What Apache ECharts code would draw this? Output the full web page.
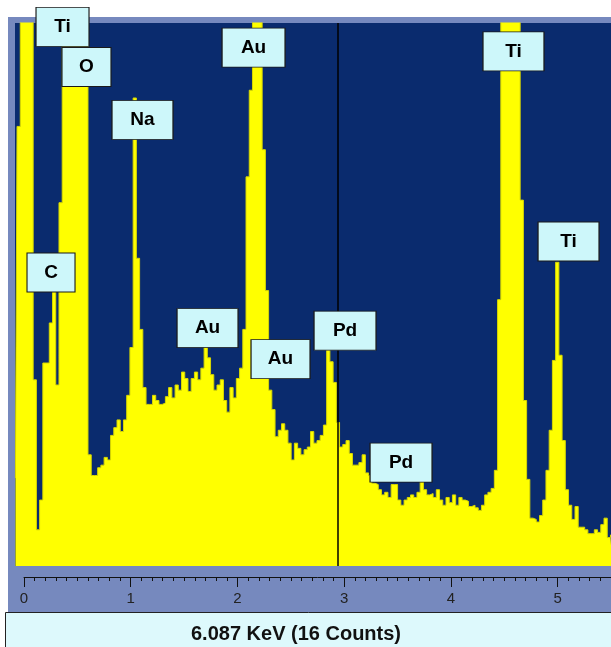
<!DOCTYPE html>
<html>
<head>
<meta charset="utf-8">
<script src="https://cdn.jsdelivr.net/npm/echarts@6/dist/echarts.min.js"></script>
<style>
  body { margin: 0; background: #fff; }
  #wrap { position: relative; width: 611px; height: 647px; }
  #frame { position: absolute; left: 8px; top: 17px; width: 603px; height: 595px; background: #7689be; }
  #chart { position: absolute; left: 0; top: 0; width: 611px; height: 647px; }
</style>
</head>
<body>
<div id="wrap">
  <div id="frame"></div>
  <div id="chart"></div>
</div>
<script>
// EDS spectrum, channel calibration
var startKeV = -0.08;
var channelKeV = 0.03;

// counts per channel (peaks above the top of the scale are off-scale)
var counts = [
  68, 340, 980, 1450, 1200, 640, 144, 28, 51, 157,
  157, 188, 217, 140, 281, 700, 900, 1000, 1050, 1000,
  900, 750, 520, 86, 70, 70, 76, 78, 84, 82,
  101, 107, 113, 104, 113, 132, 169, 362, 238, 183,
  138, 125, 125, 132, 128, 125, 126, 131, 138, 130,
  140, 136, 150, 145, 135, 145, 150, 144, 153, 169,
  161, 148, 136, 140, 144, 128, 119, 138, 130, 145,
  153, 183, 301, 368, 700, 760, 560, 322, 213, 136,
  121, 100, 105, 110, 105, 95, 82, 95, 91, 86,
  90, 92, 104, 95, 97, 101, 109, 171, 158, 142,
  111, 92, 94, 97, 87, 78, 78, 80, 86, 72,
  70, 64, 63, 59, 55, 57, 53, 63, 63, 51,
  47, 51, 53, 55, 53, 57, 65, 59, 55, 56,
  53, 59, 51, 47, 53, 49, 55, 47, 53, 51,
  50, 46, 47, 45, 43, 47, 55, 57, 60, 74,
  206, 480, 700, 820, 800, 700, 560, 283, 128, 67,
  37, 36, 34, 39, 51, 74, 105, 159, 235, 163,
  97, 59, 47, 36, 46, 30, 30, 28, 25, 25,
  28, 26, 32, 37, 22, 24
];

// element labels and where they sit (keV, counts)
var peakNames  = ['Ti', 'O', 'Na', 'C', 'Au', 'Ti', 'Ti', 'Au', 'Au', 'Pd', 'Pd'];
var labelKeV   = [0.358, 0.581, 1.102, 0.251, 2.135, 4.553, 5.065, 1.707, 2.386, 2.986, 3.507];
var labelCount = [417, 386, 345, 227, 401, 398, 251, 184, 160, 182, 80];

var cursorKeV = 2.92;
var cursorText = '6.087 KeV (16 Counts)';
var tickLabels = ['0', '1', '2', '3', '4', '5'];

// box widths (px), style only
var boxW = [53, 49, 61, 48, 63, 61, 61, 61, 59, 62, 62];

var spectrum = [];
for (var i = 0; i < counts.length; i++) {
    spectrum.push([+(startKeV + i * channelKeV).toFixed(3), counts[i]]);
}
var labelData = [];
for (var j = 0; j < peakNames.length; j++) {
    labelData.push([labelKeV[j], labelCount[j], peakNames[j]]);
}

var chart = echarts.init(document.getElementById('chart'));
var option = {
    animation: false,
    backgroundColor: 'transparent',
    grid: [
        { left: 15, top: 23, width: 596, height: 543, show: true, backgroundColor: '#0a2b6e', borderWidth: 0 },
        { left: 24, top: 568, width: 591.25, height: 9, show: false }
    ],
    xAxis: [
        { gridIndex: 0, type: 'value', min: -0.084, max: 5.46, show: false },
        {
            gridIndex: 1, type: 'value', min: 0, max: 5.5, interval: 1, position: 'bottom',
            axisLine: { show: true, lineStyle: { color: '#111', width: 1 } },
            axisTick: { show: true, length: 10, lineStyle: { color: '#111' } },
            minorTick: { show: true, splitNumber: 10, length: 4, lineStyle: { color: '#111' } },
            splitLine: { show: false },
            axisLabel: {
                margin: 14, fontSize: 15, color: '#222', fontFamily: 'Liberation Sans, Arial',
                showMaxLabel: false,
                formatter: function (v) { return tickLabels[Math.round(v)] || ''; }
            }
        }
    ],
    yAxis: [
        { gridIndex: 0, type: 'value', min: 0, max: 420, show: false },
        { gridIndex: 1, type: 'value', show: false }
    ],
    series: [
        {
            name: 'spectrum', type: 'line', xAxisIndex: 0, yAxisIndex: 0,
            data: spectrum, step: 'middle', symbol: 'none', clip: true,
            lineStyle: { color: '#d8d800', width: 1 },
            areaStyle: { color: '#ffff00', opacity: 1 },
            markLine: {
                silent: true, symbol: ['none', 'none'],
                label: { show: false },
                lineStyle: { color: '#000', width: 1.5, type: 'solid' },
                data: [{ xAxis: cursorKeV }]
            },
            z: 2
        },
        {
            name: 'labels', type: 'scatter', xAxisIndex: 0, yAxisIndex: 0,
            data: labelData, clip: false, symbol: 'rect',
            symbolSize: function (val, params) { return [boxW[params.dataIndex], 39]; },
            itemStyle: { color: '#cdf7fa', borderColor: '#1a1a1a', borderWidth: 1, opacity: 1 },
            label: {
                show: true, position: 'inside', color: '#000',
                fontSize: 19, fontWeight: 'bold', fontFamily: 'Liberation Sans, Arial',
                formatter: function (p) { return p.data[2]; }
            },
            z: 5
        }
    ],
    graphic: [
        { type: 'rect', shape: { x: 5.5, y: 612.5, width: 610, height: 40 },
          style: { fill: '#ddf9fc', stroke: '#222', lineWidth: 1 }, z: 10 },
        { type: 'text', x: 296, y: 634,
          style: { text: cursorText, textAlign: 'center', textVerticalAlign: 'middle',
                   font: 'bold 20px "Liberation Sans", Arial', fill: '#111' }, z: 11 }
    ]
};
chart.setOption(option);
</script>
</body>
</html>
